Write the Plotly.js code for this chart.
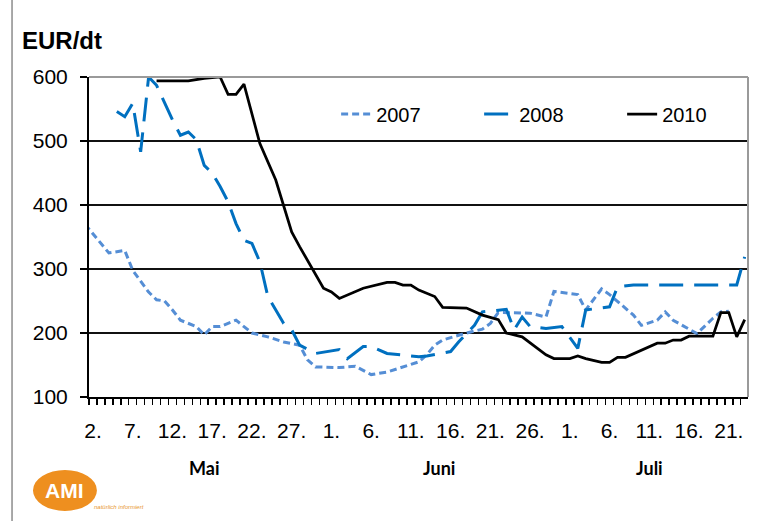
<!DOCTYPE html>
<html>
<head>
<meta charset="utf-8">
<script src="https://cdn.plot.ly/plotly-3.0.1.min.js"></script>
<style>
  html, body { margin: 0; padding: 0; background: #fff; }
  #chart { width: 760px; height: 521px; }
</style>
</head>
<body>
<div id="chart"></div>
<script>
// ---- data (dates mapped onto a common year) ----
const dates2007 = ['2010-05-01','2010-05-04','2010-05-06','2010-05-07','2010-05-09','2010-05-10','2010-05-11','2010-05-12','2010-05-13','2010-05-15','2010-05-16','2010-05-17','2010-05-18','2010-05-20','2010-05-21','2010-05-22','2010-05-24','2010-05-26','2010-05-28','2010-05-29','2010-05-30','2010-06-02','2010-06-04','2010-06-06','2010-06-08','2010-06-10','2010-06-12','2010-06-13','2010-06-14','2010-06-15','2010-06-18','2010-06-20','2010-06-21','2010-06-22','2010-06-24','2010-06-26','2010-06-28','2010-06-29','2010-07-02','2010-07-03','2010-07-05','2010-07-06','2010-07-09','2010-07-10','2010-07-12','2010-07-13','2010-07-14','2010-07-17','2010-07-19','2010-07-20','2010-07-21'];
const values2007 = [370,325,329,298,264,252,250,236,220,210,197,210,210,220,210,200,194,186,181,158,147,146,148,135,139,147,155,166,181,189,200,206,215,232,231,231,225,265,260,236,269,260,228,212,220,233,220,199,223,233,234];

const dates2008 = ['2010-05-05','2010-05-06','2010-05-07','2010-05-08','2010-05-09','2010-05-10','2010-05-12','2010-05-13','2010-05-14','2010-05-15','2010-05-16','2010-05-17','2010-05-18','2010-05-19','2010-05-20','2010-05-21','2010-05-22','2010-05-23','2010-05-24','2010-05-26','2010-05-27','2010-05-28','2010-05-30','2010-06-02','2010-06-03','2010-06-05','2010-06-06','2010-06-08','2010-06-12','2010-06-13','2010-06-16','2010-06-17','2010-06-19','2010-06-20','2010-06-23','2010-06-24','2010-06-25','2010-06-26','2010-06-28','2010-06-30','2010-07-02','2010-07-03','2010-07-06','2010-07-07','2010-07-09','2010-07-22','2010-07-23'];
const values2008 = [546,538,559,483,600,587,533,509,514,502,462,450,429,405,371,345,340,311,257,215,205,181,168,174,160,179,179,168,163,164,171,186,212,233,237,205,225,210,207,210,176,236,241,272,275,275,319];

const dates2010 = ['2010-05-10','2010-05-14','2010-05-16','2010-05-18','2010-05-19','2010-05-20','2010-05-21','2010-05-23','2010-05-25','2010-05-26','2010-05-27','2010-05-28','2010-05-31','2010-06-01','2010-06-02','2010-06-05','2010-06-08','2010-06-09','2010-06-10','2010-06-11','2010-06-12','2010-06-14','2010-06-15','2010-06-18','2010-06-20','2010-06-22','2010-06-23','2010-06-25','2010-06-28','2010-06-29','2010-07-01','2010-07-02','2010-07-03','2010-07-05','2010-07-06','2010-07-07','2010-07-08','2010-07-12','2010-07-13','2010-07-14','2010-07-15','2010-07-16','2010-07-19','2010-07-20','2010-07-21','2010-07-22','2010-07-23'];
const values2010 = [594,594,598,600,573,573,589,496,439,400,358,335,270,264,254,270,279,279,275,275,267,257,240,239,228,221,200,194,166,160,160,164,160,154,154,162,162,184,184,189,189,195,195,232,232,194,221];

const tickDates = ['2010-05-02','2010-05-07','2010-05-12','2010-05-17','2010-05-22','2010-05-27','2010-06-01','2010-06-06','2010-06-11','2010-06-16','2010-06-21','2010-06-26','2010-07-01','2010-07-06','2010-07-11','2010-07-16','2010-07-21'];
const tickLabels = ['2.','7.','12.','17.','22.','27.','1.','6.','11.','16.','21.','26.','1.','6.','11.','16.','21.'];
const monthNames = ['Mai','Juni','Juli'];
const monthCenters = ['2010-05-16','2010-06-14 12:00','2010-07-11'];
const seriesNames = ['2007','2008','2010'];

const traces = [
  {x: dates2007, y: values2007, name: seriesNames[0], type: 'scatter', mode: 'lines',
   line: {color: '#558ED5', width: 3, dash: '7px,4px'}},
  {x: dates2008, y: values2008, name: seriesNames[1], type: 'scatter', mode: 'lines',
   line: {color: '#0070C0', width: 3, dash: '24px,11px'}},
  {x: dates2010, y: values2010, name: seriesNames[2], type: 'scatter', mode: 'lines',
   line: {color: '#000000', width: 2.75}}
];

const annotations = monthNames.map((m, i) => ({
  text: m, x: monthCenters[i], xref: 'x', y: -0.222, yref: 'paper',
  xanchor: 'center', yanchor: 'middle', showarrow: false,
  font: {family: 'Lato, "Open Sans", sans-serif', size: 18, color: '#000', weight: 'bold'}
}));
annotations.push({
  text: '<b>EUR/dt</b>', x: -0.104, xref: 'paper', y: 1.115, yref: 'paper',
  xanchor: 'left', yanchor: 'middle', showarrow: false,
  font: {family: '"Liberation Sans", Arial, sans-serif', size: 24, color: '#000'}
});
annotations.push({
  text: '<b>AMI</b>', x: -0.037, xref: 'paper', y: -0.291, yref: 'paper',
  xanchor: 'center', yanchor: 'middle', showarrow: false,
  font: {family: '"Liberation Sans", Arial, sans-serif', size: 21, color: '#fff'}
});
annotations.push({
  text: '<i>natürlich informiert</i>', x: 0.005, xref: 'paper', y: -0.344, yref: 'paper',
  xanchor: 'left', yanchor: 'middle', showarrow: false,
  font: {family: '"Liberation Sans", Arial, sans-serif', size: 6, color: '#E8962E'}
});

const layout = {
  width: 760, height: 521,
  margin: {l: 89, r: 12, t: 77, b: 124, autoexpand: false},
  paper_bgcolor: '#fff', plot_bgcolor: '#fff',
  font: {family: '"Liberation Sans", Arial, sans-serif', color: '#000'},
  showlegend: true,
  legend: {
    orientation: 'h', x: 0.375, xanchor: 'left', y: 0.884, yanchor: 'middle',
    font: {size: 20, color: '#000'}, bgcolor: 'rgba(0,0,0,0)',
    entrywidth: 98, entrywidthmode: 'pixels', itemwidth: 30
  },
  xaxis: {
    type: 'date',
    range: ['2010-05-01 12:00', '2010-07-23 10:00'],
    tickmode: 'array', tickvals: tickDates, ticktext: tickLabels,
    ticks: '', showgrid: false, zeroline: false,
    showline: true, linecolor: '#000', linewidth: 2,
    tickfont: {size: 21, color: '#000'},
    ticklabelstandoff: 14,
    minor: {tick0: '2010-05-01 12:00', dtick: 86400000, ticks: 'outside', ticklen: 6,
            tickcolor: '#000', tickwidth: 1.5, showgrid: false}
  },
  yaxis: {
    range: [100, 600], dtick: 100, tick0: 100,
    ticks: 'outside', ticklen: 7, tickcolor: '#000', tickwidth: 1.5,
    showgrid: true, gridcolor: '#111', gridwidth: 1.3,
    zeroline: false, showline: true, linecolor: '#000', linewidth: 2,
    tickfont: {size: 21, color: '#000'},
    ticklabelstandoff: 8
  },
  shapes: [
    {type: 'line', xref: 'paper', yref: 'paper', x0: 0, x1: 1, y0: 1, y1: 1,
     line: {color: '#9a9a9a', width: 2}},
    {type: 'line', xref: 'paper', yref: 'paper', x0: 1, x1: 1, y0: 0, y1: 1,
     line: {color: '#9a9a9a', width: 2}},
    {type: 'line', xref: 'paper', yref: 'paper', x0: -0.1168, x1: -0.1168, y0: -0.4, y1: 1.25,
     line: {color: '#8c8c8c', width: 1.5}},
    {type: 'circle', xref: 'paper', yref: 'paper', x0: -0.085, x1: 0.012, y0: -0.356, y1: -0.228,
     fillcolor: '#EE8F1F', line: {width: 0}, layer: 'above'}
  ],
  annotations: annotations
};

Plotly.newPlot('chart', traces, layout, {displayModeBar: false, staticPlot: true});
</script>
</body>
</html>
